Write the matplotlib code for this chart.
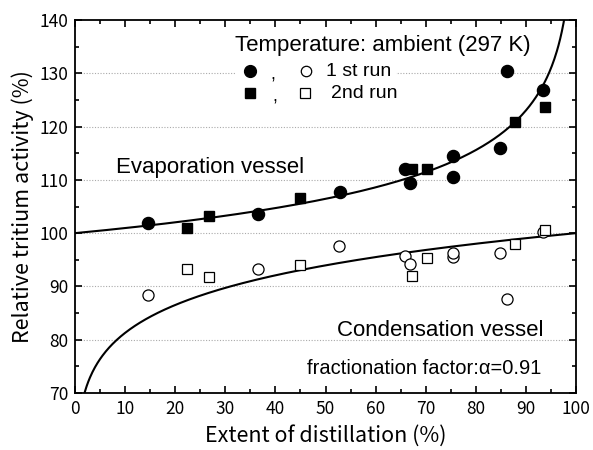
import numpy as np
import matplotlib
matplotlib.use("Agg")
import matplotlib.pyplot as plt
from matplotlib.ticker import MultipleLocator
from matplotlib.patches import Rectangle

# ---- data ----
alpha = 0.91  # fractionation factor stated on the chart

evap_run1_x = [14.6, 36.5, 52.8, 65.9, 66.9, 75.5, 75.5, 84.8, 86.2, 93.5]
evap_run1_y = [101.9, 103.6, 107.8, 112.0, 109.5, 114.5, 110.5, 115.9, 130.5, 126.9]
evap_run2_x = [22.3, 26.7, 45.0, 67.3, 70.3, 87.9, 93.8]
evap_run2_y = [100.9, 103.3, 106.6, 112.1, 112.0, 120.9, 123.6]

cond_run1_x = [14.6, 36.5, 52.7, 65.9, 66.9, 75.5, 75.5, 84.8, 86.2, 93.5]
cond_run1_y = [88.3, 93.2, 97.5, 95.7, 94.3, 95.5, 96.3, 96.3, 87.7, 100.2]
cond_run2_x = [22.3, 26.7, 45.0, 67.3, 70.3, 87.9, 93.9]
cond_run2_y = [93.2, 91.8, 94.1, 92.0, 95.3, 97.9, 100.5]

xticks = [0, 10, 20, 30, 40, 50, 60, 70, 80, 90, 100]
yticks = [70, 80, 90, 100, 110, 120, 130, 140]

plt.rcParams['font.family'] = ['Liberation Sans', 'DejaVu Sans']
jp = ['Noto Sans CJK JP', 'DejaVu Sans']

fig = plt.figure(figsize=(5.93, 4.5), dpi=100)
ax = fig.add_axes([75/593, 57/450, 501/593, 373/450])

# theoretical Rayleigh curves
f_e = np.linspace(0, 99.5, 600)
ax.plot(f_e, 100 * (1 - f_e / 100) ** (alpha - 1), color='black', lw=1.5, zorder=3)
f_c = np.linspace(0.5, 100, 600)
ax.plot(f_c, 100 * (f_c / 100) ** (1 - alpha), color='black', lw=1.5, zorder=3)

# data
ax.plot(evap_run1_x, evap_run1_y, 'o', ms=8.7, color='black', zorder=4)
ax.plot(evap_run2_x, evap_run2_y, 's', ms=7.5, color='black', zorder=4)
ax.plot(cond_run1_x, cond_run1_y, 'o', ms=8, mfc='white', mec='black', mew=0.9, zorder=4)
ax.plot(cond_run2_x, cond_run2_y, 's', ms=7, mfc='white', mec='black', mew=0.9, zorder=4)

ax.set_xlim(0, 100)
ax.set_ylim(70, 140)
ax.set_xticks(xticks)
ax.set_yticks(yticks)
ax.xaxis.set_minor_locator(MultipleLocator(5))
ax.yaxis.set_minor_locator(MultipleLocator(5))
ax.tick_params(which='both', direction='in', top=True, right=True, width=1.2, labelsize=12.5)
ax.tick_params(which='major', length=5)
ax.tick_params(which='minor', length=3)
ax.tick_params(axis='x', which='major', pad=5)
ax.tick_params(axis='y', which='major', pad=5)
for lab in ax.get_xticklabels() + ax.get_yticklabels():
    lab.set_family(jp)
for s in ax.spines.values():
    s.set_linewidth(1.3)

for yv in [80, 90, 100, 110, 120, 130]:
    ax.axhline(yv, color='#aaaaaa', lw=0.8, ls=(0, (1, 1.5)), zorder=1)

ax.set_xlabel('Extent of distillation (%)', fontsize=15.5, labelpad=5, family=jp)
ax.set_ylabel('Relative tritium activity (%)', fontsize=15.5, labelpad=4, family=jp)

def tx(px):
    return (px - 75) / 501

def ty(py):
    return (393 - py) / 373

# annotations
ax.text(tx(383), ty(45), 'Temperature: ambient (297 K)', transform=ax.transAxes,
        ha='center', va='center', fontsize=16)
ax.text(tx(210), ty(168), 'Evaporation vessel', transform=ax.transAxes,
        ha='center', va='center', fontsize=16)
ax.text(tx(440), ty(330), 'Condensation vessel', transform=ax.transAxes,
        ha='center', va='center', fontsize=16)
ax.text(tx(424), ty(368), 'fractionation factor:α=0.91', transform=ax.transAxes,
        ha='center', va='center', fontsize=14.5)

# legend built by hand
ax.add_patch(Rectangle((tx(236), ty(80)), tx(396) - tx(236), ty(62) - ty(80),
                       transform=ax.transAxes, facecolor='white', edgecolor='none', zorder=2))
ax.plot([tx(250)], [ty(71)], 'o', ms=8.5, color='black', transform=ax.transAxes, clip_on=False, zorder=5)
ax.text(tx(273), ty(75), ',', transform=ax.transAxes, ha='center', va='center', fontsize=13)
ax.plot([tx(306)], [ty(71)], 'o', ms=7.5, mfc='white', mec='black', mew=0.9, transform=ax.transAxes, clip_on=False, zorder=5)
ax.text(tx(326), ty(71), '1 st run', transform=ax.transAxes, ha='left', va='center', fontsize=14)
ax.plot([tx(250)], [ty(93)], 's', ms=7, color='black', transform=ax.transAxes, clip_on=False, zorder=5)
ax.text(tx(275), ty(97), ',', transform=ax.transAxes, ha='center', va='center', fontsize=13)
ax.plot([tx(305)], [ty(93)], 's', ms=6.5, mfc='white', mec='black', mew=0.9, transform=ax.transAxes, clip_on=False, zorder=5)
ax.text(tx(331), ty(93), '2nd run', transform=ax.transAxes, ha='left', va='center', fontsize=14)

fig.savefig('out.png', dpi=100)
